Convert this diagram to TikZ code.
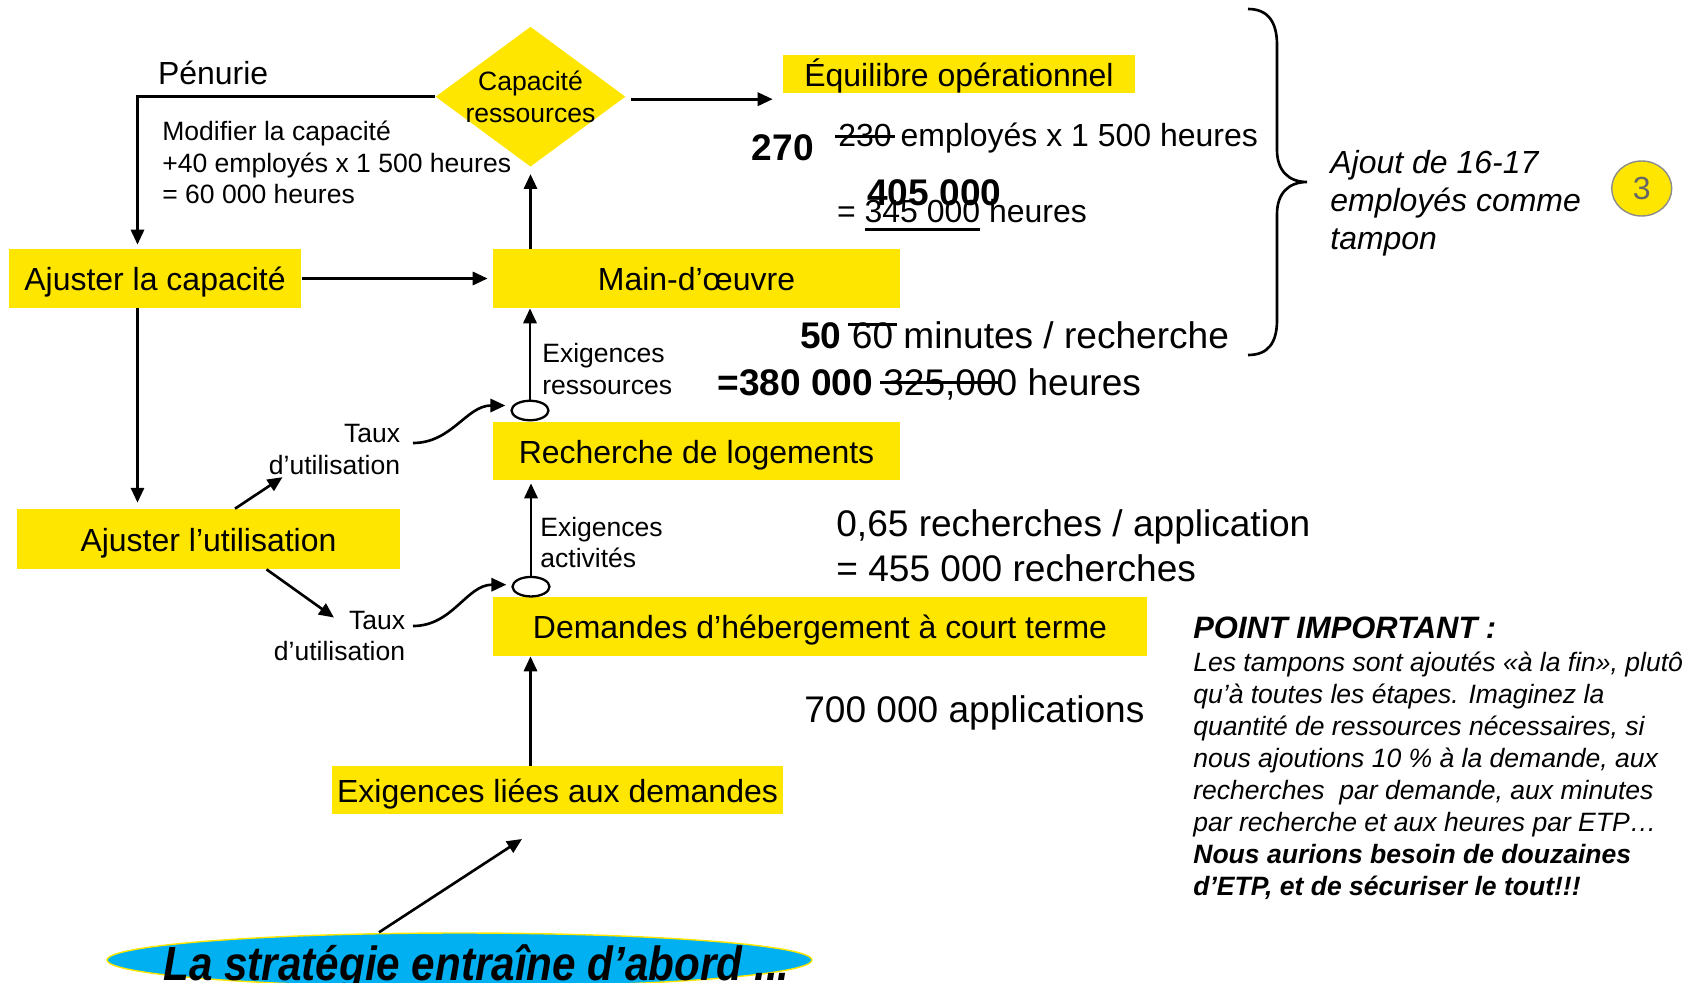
\documentclass[tikz,border=0pt]{standalone}
\usepackage{fontspec}
\setmainfont{Liberation Sans}
\definecolor{boxyellow}{HTML}{FFE600}
\definecolor{stratcyan}{HTML}{00B0F0}
\definecolor{badgegray}{HTML}{8C8C8C}
\definecolor{badgetext}{HTML}{666666}
\usepackage{tikz}
\usetikzlibrary{arrows.meta,shapes.geometric,positioning}
\usepackage{xcolor}
% font sizes (1px = 0.02cm)
\newcommand{\fsmall}{\fontsize{15.1pt}{18.05pt}\selectfont}
\newcommand{\fmid}{\fontsize{18.2pt}{21.6pt}\selectfont}
\newcommand{\fbig}{\fontsize{21.1pt}{25.6pt}\selectfont}
\newcommand{\fhead}{\fontsize{17.6pt}{21pt}\selectfont}
\newcommand{\fnote}{\fontsize{15.1pt}{18.25pt}\selectfont}
\newcommand{\fstrat}{\fontsize{27.3pt}{32pt}\selectfont}
\newsavebox{\numbox}
\newcommand{\strikenum}[2][0.3em]{\sbox\numbox{#2}\rlap{\kern-0.1em\rule[#1]{\dimexpr\wd\numbox+0.2em\relax}{0.065em}}\usebox\numbox}
\newcommand{\ulnum}[1]{\sbox\numbox{#1}\rlap{\rule[-0.24em]{\wd\numbox}{0.07em}}\usebox\numbox}
\tikzset{
  box_yel/.style={fill=boxyellow,inner sep=0pt,minimum height=1.18cm,font=\fmid,
    text height=13.9pt,text depth=0pt},
  diam/.style={diamond,fill=boxyellow,inner sep=0pt,minimum width=3.8cm,minimum height=2.8cm},
  oval/.style={ellipse,draw,fill=white,line width=1.3pt,inner sep=0pt,
    minimum width=0.74cm,minimum height=0.39cm},
  lbl_small/.style={inner sep=0pt,font=\fsmall,align=left},
  lbl_mid/.style={inner sep=0pt,font=\fmid,align=left},
  lbl_big/.style={inner sep=0pt,font=\fbig,align=left},
  num_bold/.style={inner sep=0pt,font=\fbig\bfseries},
  badge/.style={ellipse,fill=boxyellow,draw=badgegray,line width=0.8pt,inner sep=0pt,
    minimum width=1.2cm,minimum height=1.1cm,font=\fmid,text=badgetext},
  strat_ell/.style={ellipse,fill=stratcyan,draw=boxyellow,line width=0.8pt,inner sep=0pt,
    minimum width=14.1cm,minimum height=1.08cm},
  strat_txt/.style={inner sep=0pt,font=\fstrat\bfseries\itshape},
  arr/.style={-{Triangle[length=8.5pt,width=7.5pt]},line width=1.5pt},
  brace_line/.style={line width=1.5pt},
}

\begin{document}
\begin{tikzpicture}[x=0.02cm,y=-0.02cm]
  \useasboundingbox (0,0) rectangle (1683,983);
  \clip (0,0) rectangle (1683,983);

  % flow boxes
  \node[diam] (cap) at (530.5,96.7) {};
  \node[lbl_small,align=center] (cap_txt) at (cap.center) {Capacité\\ressources};
  \node[box_yel,minimum width=7.04cm,minimum height=0.76cm] (equi) at (959,74) {Équilibre opérationnel};
  \node[box_yel,minimum width=5.86cm] (ajcap) at (155,278.5) {Ajuster la capacité};
  \node[box_yel,minimum width=8.16cm] (main) at (696.5,278.5) {Main-d’œuvre};
  \node[box_yel,minimum width=8.16cm,minimum height=1.16cm] (rech) at (696.5,451) {Recherche de logements};
  \node[box_yel,minimum width=7.66cm,minimum height=1.2cm] (ajutil) at (208.5,539) {Ajuster l’utilisation};
  \node[box_yel,minimum width=13.1cm] (dem) at (820,626.5) {Demandes d’hébergement à court terme};
  \node[box_yel,minimum width=9.02cm,minimum height=0.96cm] (exig) at (557.5,790) {Exigences liées aux demandes};
  \node[oval] (oval_up) at (530,410.5) {};
  \node[oval] (oval_lo) at (531,586.7) {};

  % labels
  \node[lbl_mid,anchor=base west] (penurie) at (157.7,85) {Pénurie};
  \node[lbl_small,anchor=west] (modif) at (162,162.5) {Modifier la capacité\\+40 employés x 1 500 heures\\= 60 000 heures};
  \node[lbl_small,anchor=west] (exig_res) at (542,369) {Exigences\\ressources};
  \node[lbl_small,anchor=west] (exig_act) at (540,542.4) {Exigences\\activités};
  \node[lbl_small,align=right,anchor=east] (taux_up) at (400.5,449.7) {Taux\\d’utilisation};
  \node[lbl_small,align=right,anchor=east] (taux_lo) at (405.5,636) {Taux\\d’utilisation};

  % figures
  \node[num_bold,anchor=base west] (n270) at (751.5,161) {270};
  \node[lbl_mid,anchor=base west] (emp) at (838,146.5) {\strikenum[0.28em]{230} employés x 1 500 heures};
  \node[lbl_mid,anchor=base west] (hrs) at (836.7,223) {= \ulnum{345 000} heures};
  \node[num_bold,anchor=base west] (n405) at (867,206) {405 000};
  \node[lbl_big,anchor=base west] (mins) at (800,348.5) {\textbf{50} \strikenum[0.62em]{60} minutes / recherche};
  \node[lbl_big,anchor=base west] (tot) at (717,395.5) {\textbf{=380 000} \strikenum[0.32em]{325,00}0 heures};
  \node[lbl_big,anchor=west] (rate) at (836,546) {0,65 recherches / application\\= 455 000 recherches};
  \node[lbl_big,anchor=base west] (apps) at (804,722.5) {700 000 applications};
  \node[lbl_mid,font=\fmid\itshape,anchor=west] (ajout) at (1330,203) {Ajout de 16-17\\employés comme\\tampon};
  \node[badge] (badge3) at (1641.7,188.5) {3};

  % note
  \node[inner sep=0pt,font=\fhead\bfseries\itshape,anchor=base west] (imp_head) at (1193,638.7) {POINT IMPORTANT :};
  \node[inner sep=0pt,font=\fnote\itshape,align=left,anchor=north west] (imp_body) at (1193,651.5)
    {Les tampons sont ajoutés «à la fin», plutôt\\qu’à toutes les étapes. Imaginez la\\quantité de ressources nécessaires, si\\nous ajoutions 10 \% à la demande, aux\\recherches\ \ par demande, aux minutes\\par recherche et aux heures par ETP…\\{\bfseries Nous aurions besoin de douzaines}\\{\bfseries d’ETP, et de sécuriser le tout!!!}};

  % strategy
  \node[strat_ell] (strat) at (459.5,960) {};
  \node[strat_txt,anchor=base] (strat_txt) at (476.5,980) {\scalebox{0.88}[1]{La stratégie entraîne d’abord ...}};
  \coordinate (strat_tip) at (522,839);

  % connectors
  \draw[arr,shorten <=2.7pt,shorten >=5.7pt] ([shift={(0,2.5)}]cap.east) -- ([shift={(0,2.5)}]cap.east -| equi.west);
  \draw[arr,shorten >=2.3pt] (cap.west) -| ([shift={(-17.5,0)}]ajcap.north);
  \draw[arr,shorten >=2.6pt] (ajcap.east) -- (main.west);
  \draw[arr,shorten >=4pt] (cap.south |- main.north) -- (cap.south);
  \draw[arr,shorten >=3.4pt] ([shift={(-17.5,0)}]ajcap.south) -- ([shift={(-17.5,0)}]ajcap.south |- ajutil.north);
  \draw[arr] (oval_up.north) -- (oval_up.north |- main.south);
  \draw[arr,shorten >=1.7pt] (oval_lo.north) -- (oval_lo.north |- rech.south);
  \draw[arr] (cap.south |- exig.north) -- (cap.south |- dem.south);
  \draw[arr] ([shift={(26.5,0)}]ajutil.north) -- ([shift={(14,2)}]taux_up.south west);
  \draw[arr] ([shift={(58,0)}]ajutil.south) -- ([shift={(-71.5,7)}]taux_lo.north east);
  \draw[arr] ([shift={(12.5,-6.7)}]taux_up.east) to[out=0,in=180] ([shift={(-5,-5)}]oval_up.west);
  \draw[arr] ([shift={(7.5,-10)}]taux_lo.east) to[out=0,in=180] ([shift={(-5,-2)}]oval_lo.west);
  \draw[arr] ([shift={(-80.5,0)}]strat.north) -- (strat_tip);

  % brace
  \draw[brace_line] (1248,9) .. controls (1268,9) and (1277,22) .. (1277,45) -- (1277,150)
    .. controls (1277,170) and (1288,182) .. (1307,182)
    .. controls (1288,182) and (1277,194) .. (1277,214) -- (1277,320)
    .. controls (1277,343) and (1268,355) .. (1248,355);
\end{tikzpicture}
\end{document}
